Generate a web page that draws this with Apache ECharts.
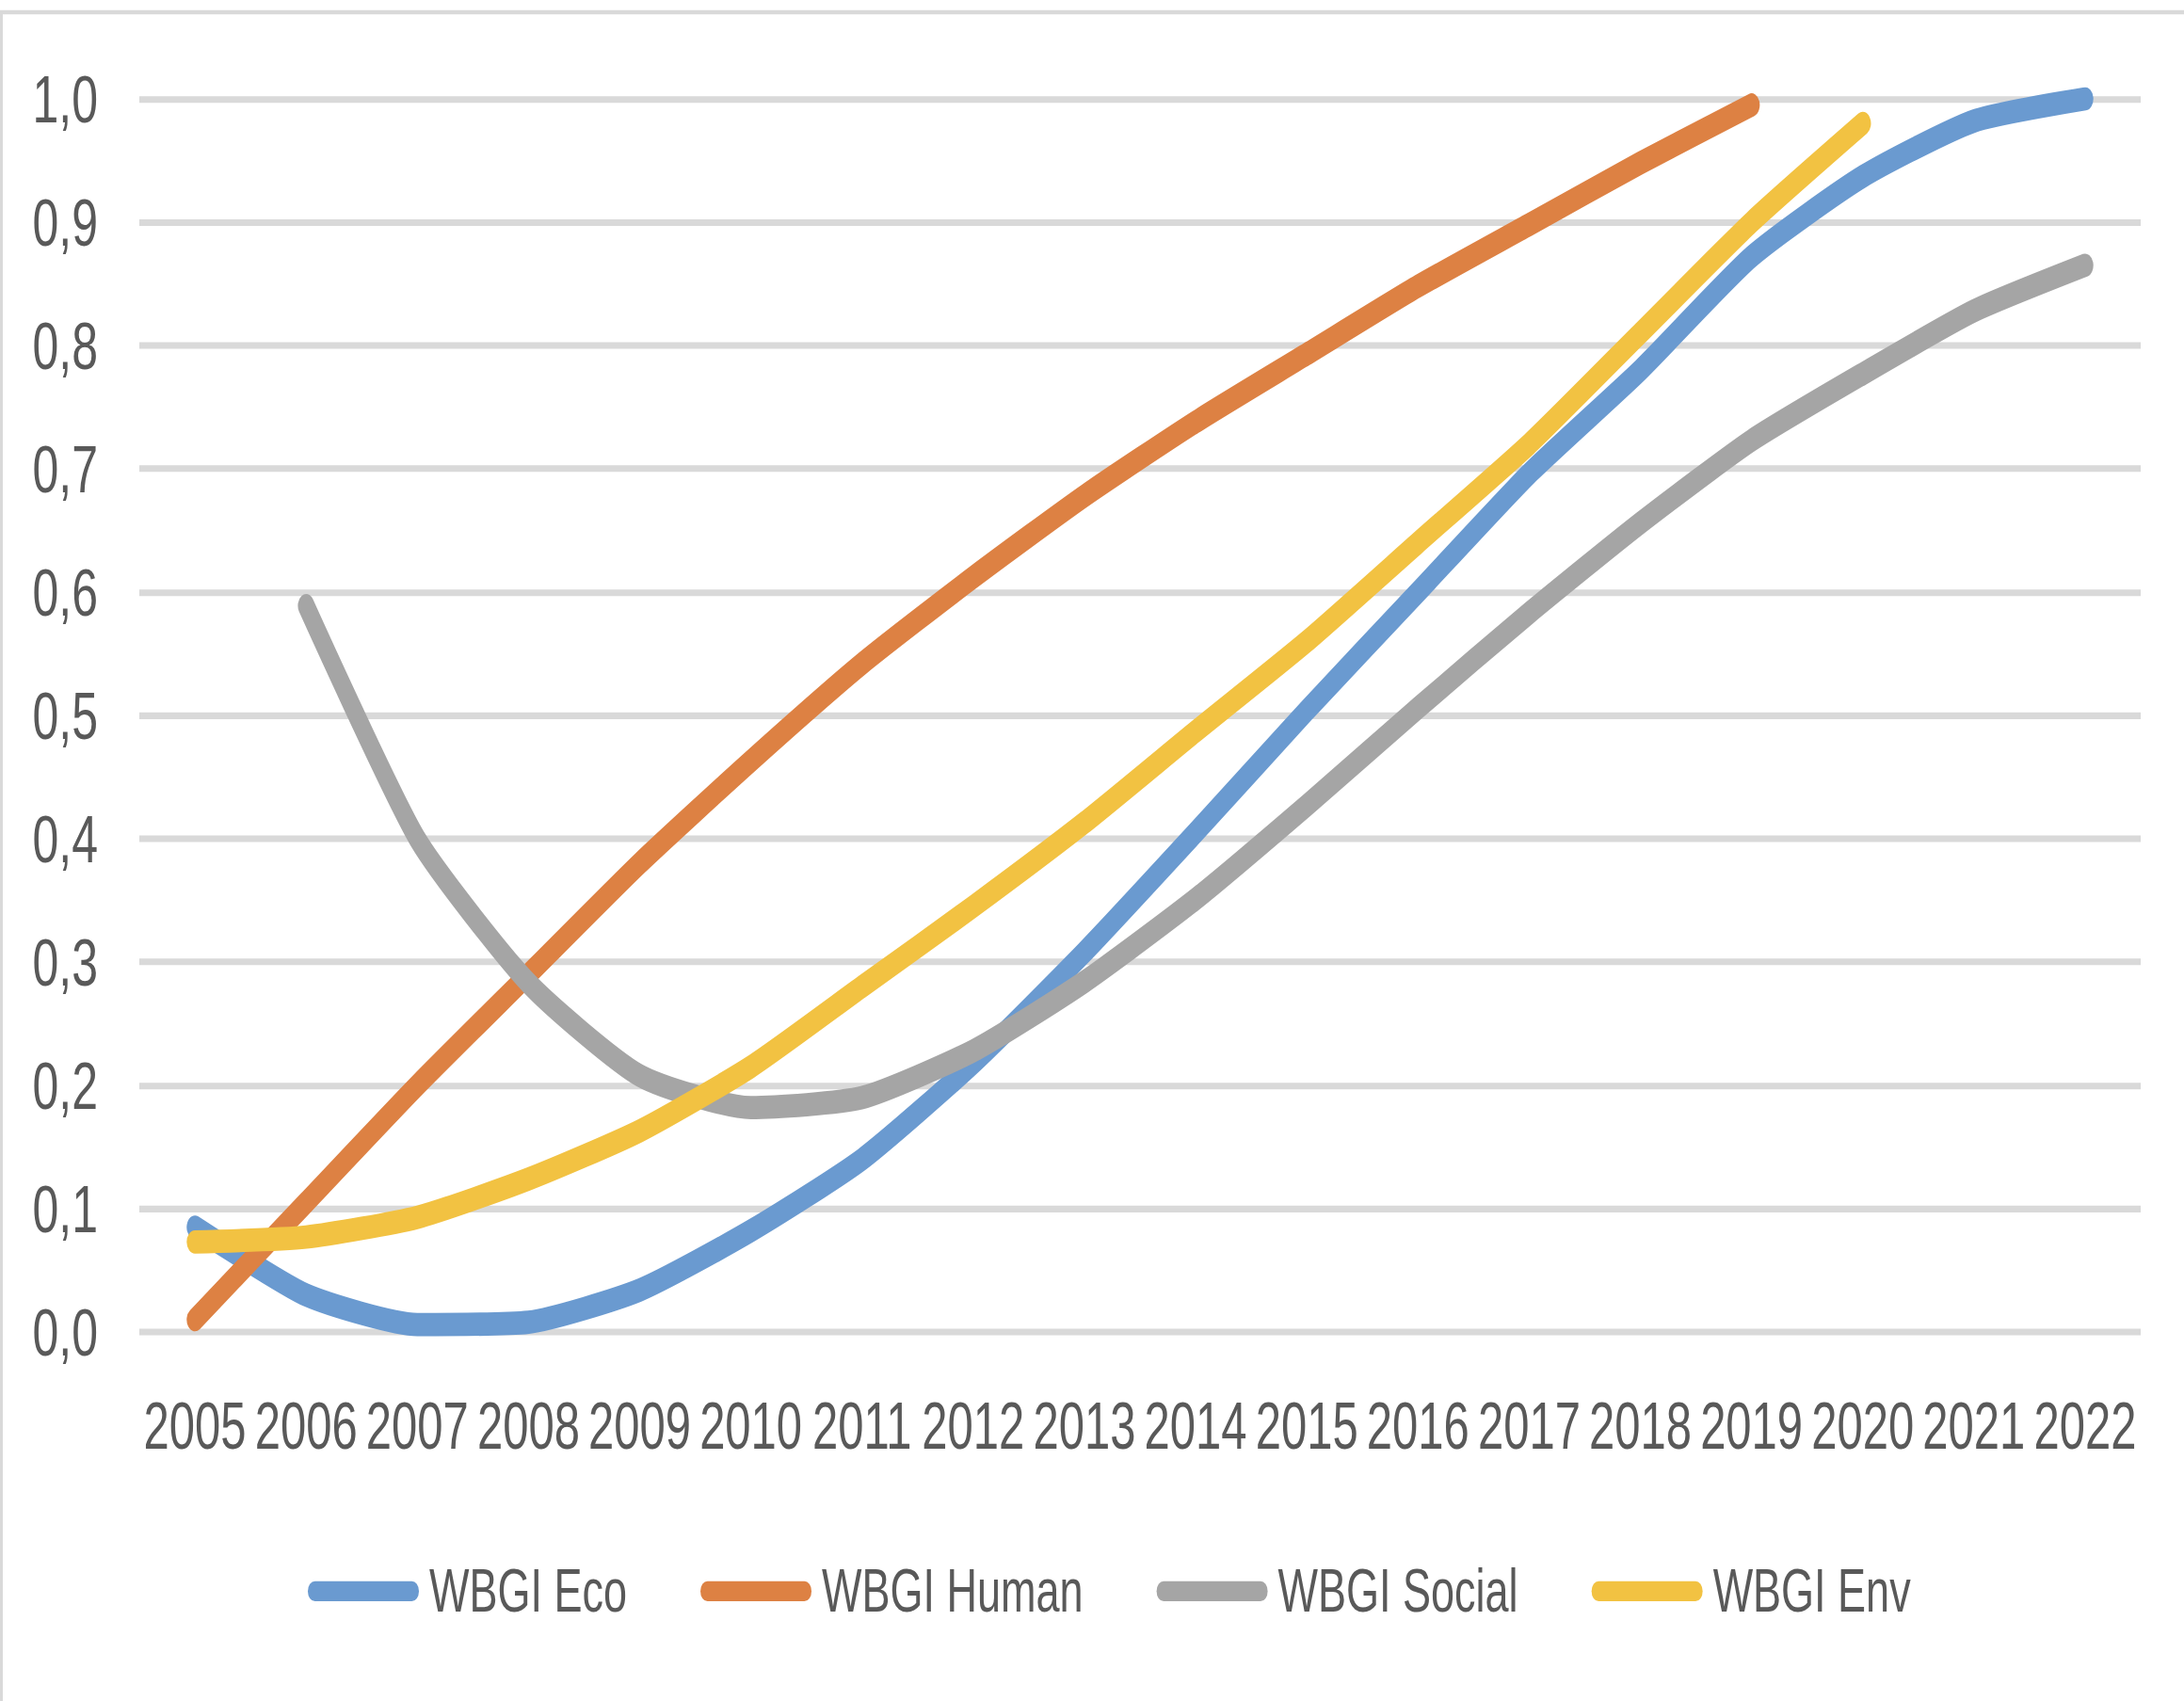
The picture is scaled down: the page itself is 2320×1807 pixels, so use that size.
<!DOCTYPE html>
<html>
<head>
<meta charset="utf-8">
<title>WBGI</title>
<script src="https://cdn.jsdelivr.net/npm/echarts@6/dist/echarts.min.js"></script>
<style>
  html, body { margin: 0; padding: 0; background: #ffffff; overflow: hidden; }
  #stage { position: relative; width: 2320px; height: 1807px; overflow: hidden; background: #ffffff; }
  #chart { position: absolute; left: 0; top: 0; width: 2320px; transform-origin: 0 0; }
</style>
</head>
<body>
<div id="stage"><div id="chart"></div></div>
<script>
// Years on the category axis
const years = ['2005', '2006', '2007', '2008', '2009', '2010', '2011', '2012', '2013',
               '2014', '2015', '2016', '2017', '2018', '2019', '2020', '2021', '2022'];

// Value-axis tick labels (decimal comma)
const yTickLabels = ['0,0', '0,1', '0,2', '0,3', '0,4', '0,5', '0,6', '0,7', '0,8', '0,9', '1,0'];

// Series names
const seriesNames = ['WBGI Eco', 'WBGI Human', 'WBGI Social', 'WBGI Env'];

// Index values per year (null = no observation)
const wbgiEco    = [0.085, 0.030, 0.006, 0.008, 0.034, 0.082, 0.140, 0.218, 0.308, 0.405,
                    0.504, 0.600, 0.696, 0.780, 0.872, 0.937, 0.982, 1.000];
const wbgiHuman  = [0.010, 0.105, 0.200, 0.290, 0.380, 0.463, 0.542, 0.612, 0.678, 0.738,
                    0.793, 0.848, 0.898, 0.948, 0.995, null, null, null];
const wbgiSocial = [null, 0.589, 0.400, 0.283, 0.208, 0.182, 0.190, 0.228, 0.284, 0.351,
                    0.427, 0.506, 0.583, 0.656, 0.723, 0.777, 0.828, 0.865];
const wbgiEnv    = [0.073, 0.077, 0.093, 0.124, 0.163, 0.215, 0.280, 0.345, 0.413, 0.487,
                    0.560, 0.640, 0.720, 0.810, 0.900, 0.980, null, null];

const seriesData = [wbgiEco, wbgiHuman, wbgiSocial, wbgiEnv];
const seriesColors = ['#6a9ad0', '#dd8143', '#a5a5a5', '#f2c242'];

// The chart is laid out in a shorter box and stretched vertically,
// giving the tall, narrow lettering of the original figure.
const STRETCH = 1.42;
const PAGE_W = 2320, PAGE_H = 1807;
const BOX_H = PAGE_H / STRETCH;
const v = (y) => y / STRETCH; // page-space y -> layout-space y

const el = document.getElementById('chart');
el.style.height = BOX_H + 'px';
el.style.transform = 'scaleY(' + STRETCH + ')';

const chart = echarts.init(el, null, { renderer: 'svg', width: PAGE_W, height: BOX_H });

const textColor = '#595959';
const font = '"Liberation Sans", Arial, sans-serif';

const option = {
  backgroundColor: '#ffffff',
  animation: false,
  graphic: [{
    type: 'rect',
    silent: true,
    shape: { x: 1.5, y: v(13), width: PAGE_W + 40, height: BOX_H + 40 },
    style: { fill: 'none', stroke: '#d9d9d9', lineWidth: 3 }
  }],
  grid: {
    left: 148,
    right: PAGE_W - 2274,
    top: v(105),
    bottom: BOX_H - v(1415),
    containLabel: false,
    outerBoundsMode: 'none'
  },
  legend: {
    data: seriesNames,
    left: 322,
    top: v(1684) - 23,
    itemWidth: 118,
    itemHeight: 15,
    itemGap: 78,
    icon: 'path://M7.5,0L110.5,0A7.5,7.5 0 0 1 110.5,15L7.5,15A7.5,7.5 0 0 1 7.5,0Z',
    textStyle: {
      color: textColor,
      fontFamily: font,
      fontSize: 45,
      padding: [0, 0, 0, 6]
    }
  },
  xAxis: {
    type: 'category',
    data: years,
    boundaryGap: true,
    axisLine: { show: false },
    axisTick: { show: false },
    splitLine: { show: false },
    axisLabel: {
      interval: 0,
      color: textColor,
      fontFamily: font,
      fontSize: 49,
      margin: 46
    }
  },
  yAxis: {
    type: 'value',
    min: 0,
    max: 1,
    interval: 0.1,
    axisLine: { show: false },
    axisTick: { show: false },
    splitLine: { show: true, lineStyle: { color: '#d9d9d9', width: 5 } },
    axisLabel: {
      color: textColor,
      fontFamily: font,
      fontSize: 50,
      margin: 44,
      formatter: (val) => yTickLabels[Math.round(val * 10)]
    }
  },
  series: seriesNames.map((name, i) => ({
    name: name,
    type: 'line',
    data: seriesData[i],
    smooth: 0.2,
    showSymbol: false,
    symbol: 'none',
    connectNulls: false,
    color: seriesColors[i],
    lineStyle: { color: seriesColors[i], width: 17.5, cap: 'round', join: 'round' },
    emphasis: { disabled: true },
    z: 2 + i
  }))
};

chart.setOption(option);
</script>
</body>
</html>
